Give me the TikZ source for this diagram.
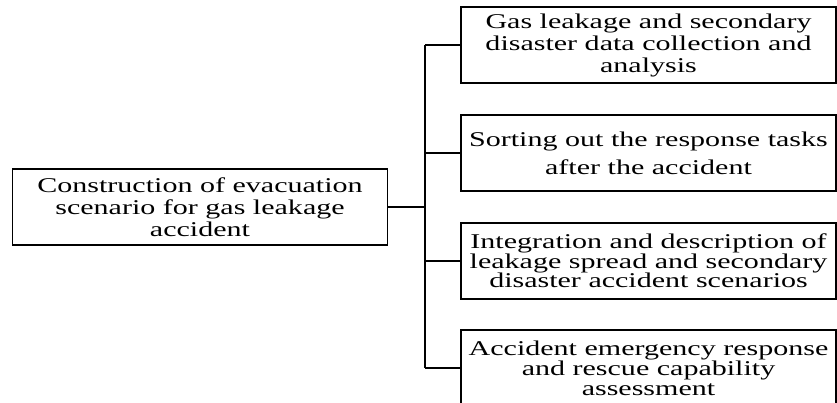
\documentclass[tikz,border=0pt]{standalone}
\usepackage{fontspec}
\newfontfamily\tnr[FakeStretch=1.43]{Liberation Serif}
\begin{document}
\begin{tikzpicture}[x=1pt,y=-1pt,
  box/.style={draw=black,line width=1.9pt,minimum width=375pt,minimum height=76pt,
    inner sep=0pt,align=center,outer sep=0pt},
  fnt/.style={font={\tnr\fontsize{21}{#1}\selectfont}},
  link/.style={draw=black,line width=1.9pt}]
\useasboundingbox (0,0) rectangle (837,403);
\node[box,fnt=22] (root) at (200,207) {Construction of evacuation\\scenario for gas leakage\\accident};
\node[box,fnt=22] (b1) at (648.5,45) {Gas leakage and secondary\\disaster data collection and\\analysis};
\node[box,fnt=28] (b2) at (648.5,153) {Sorting out the response tasks\\after the accident};
\node[box,fnt=19.5] (b3) at (648.5,261) {Integration and description of\\leakage spread and secondary\\disaster accident scenarios};
\node[box,fnt=20] (b4) at (648.5,368) {Accident emergency response\\and rescue capability\\assessment};
\coordinate (t1) at (425,45);
\coordinate (t4) at (425,368);
\draw[link] (root.east) -- (root.east -| t1);
\draw[link] (t1) -- (t4);
\draw[link] (t1) -- (b1.west);
\draw[link] (b2.west -| t1) -- (b2.west);
\draw[link] (b3.west -| t1) -- (b3.west);
\draw[link] (t4) -- (b4.west);
\end{tikzpicture}
\end{document}
